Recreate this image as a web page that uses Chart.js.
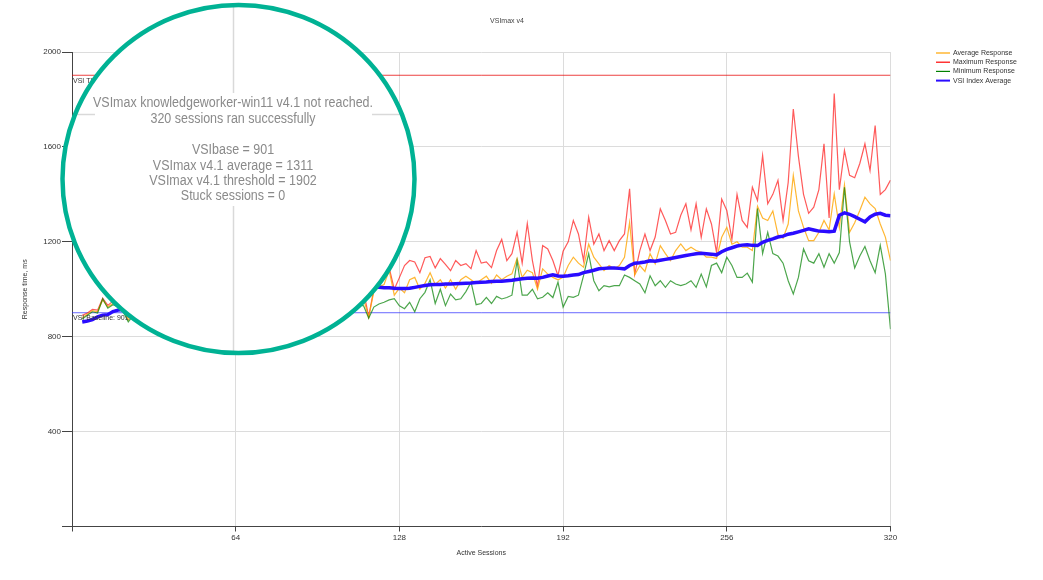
<!DOCTYPE html>
<html>
<head>
<meta charset="utf-8">
<title>VSImax v4</title>
<script src="https://cdn.jsdelivr.net/npm/chart.js@4.4.1/dist/chart.umd.min.js"></script>
<style>
  html, body { margin: 0; padding: 0; background: #fff; }
  #wrap { width: 1043px; height: 580px; position: relative; }
</style>
</head>
<body>
<div id="wrap"><canvas id="chart" width="1043" height="580"></canvas></div>
<script>
// active sessions (x values)
const sessions = [
  4, 6, 8, 10, 12, 14, 16, 18, 20, 22, 24,
  28, 34, 40, 46, 52, 58, 64, 70, 76, 82, 88, 94, 100, 106, 110, 112,
  114, 116, 118, 120, 122, 124, 126, 128, 130, 132,
  134, 136, 138, 140, 142, 144, 146, 148, 150, 152,
  154, 156, 158, 160, 162, 164, 166, 168, 170, 172,
  174, 176, 178, 180, 182, 184, 186, 188, 190, 192,
  194, 196, 198, 200, 202, 204, 206, 208, 210, 212,
  214, 216, 218, 220, 222, 224, 226, 228, 230, 232,
  234, 236, 238, 240, 242, 244, 246, 248, 250, 252,
  254, 256, 258, 260, 262, 264, 266, 268, 270, 272,
  274, 276, 278, 280, 282, 284, 286, 288, 290, 292,
  294, 296, 298, 300, 302, 304, 306, 308, 310, 312,
  314, 316, 318, 320
];

const avgResponse = [
  880, 895, 910, 905, 955, 925, 940, 930, 915, 870, 900,
  935, 945, 950, 960, 965, 975, 980, 985, 995, 1000, 1005, 1010, 1015, 1010, 1000, 985,
  960, 882, 990, 1010, 1020, 1080, 975, 1005, 985, 1040,
  1050, 1000, 1025, 1070, 1020, 1040, 1005, 1040, 1000, 1040,
  1055, 1040, 1025, 1040, 1055, 1025, 1060, 1040, 1055, 1065,
  1130, 1050, 1080, 1070, 1000, 1086, 1064, 1050, 1040, 1050,
  1100, 1135, 1110, 1093, 1190, 1135, 1107, 1079, 1100, 1086,
  1100, 1135, 1282, 1060, 1100, 1075, 1150, 1107, 1184, 1150,
  1121, 1163, 1191, 1163, 1177, 1163, 1156, 1135, 1135, 1130,
  1219, 1261, 1190, 1200, 1177, 1177, 1163, 1350, 1300, 1290,
  1330, 1230, 1215, 1275, 1480, 1330, 1261, 1205, 1205, 1240,
  1290, 1250, 1402, 1260, 1440, 1240, 1280, 1332, 1388, 1360,
  1340, 1275, 1220, 1121
];

const maxResponse = [
  890, 900, 915, 912, 962, 932, 950, 940, 925, 880, 905,
  970, 990, 1000, 1010, 1020, 1030, 1040, 1050, 1055, 1060, 1070, 1075, 1080, 1070, 1050, 1020,
  990, 885, 1000, 1030, 1057, 1091, 1000, 1049, 1100, 1121,
  1115, 1070, 1133, 1138, 1090, 1129, 1105, 1078, 1121, 1100,
  1108, 1087, 1163, 1110, 1115, 1091, 1163, 1210, 1121, 1150,
  1240, 1110, 1277, 1121, 1010, 1184, 1170, 1121, 1057, 1160,
  1200, 1290, 1233, 1121, 1304, 1190, 1233, 1163, 1205, 1163,
  1205, 1233, 1423, 1064, 1163, 1233, 1163, 1220, 1339, 1290,
  1233, 1240, 1312, 1360, 1250, 1360, 1219, 1339, 1275, 1155,
  1380, 1332, 1210, 1400, 1290, 1261, 1430, 1374, 1564, 1360,
  1400, 1459, 1290, 1450, 1760, 1560, 1400, 1320, 1346, 1420,
  1613, 1300, 1825, 1420, 1585, 1480, 1470, 1530, 1613, 1500,
  1690, 1400, 1420, 1460
];

const minResponse = [
  875, 890, 905, 900, 960, 920, 935, 925, 905, 862, 890,
  910, 915, 920, 925, 930, 935, 940, 945, 950, 950, 955, 960, 955, 950, 940, 935,
  930, 878, 925, 938, 945, 955, 960, 930, 918, 945,
  905, 960, 987, 1040, 940, 1000, 931, 980, 955, 960,
  990, 1030, 935, 940, 966, 940, 970, 959, 965, 975,
  1120, 975, 975, 1000, 960, 966, 985, 965, 1030, 925,
  970, 966, 975, 1057, 1150, 1036, 994, 1015, 1010, 1015,
  1015, 1060, 1050, 1036, 1022, 985, 1057, 1015, 1036, 1008,
  1036, 1022, 1015, 1022, 1036, 1008, 1064, 1010, 1100, 1110,
  1070, 1135, 1100, 1050, 1050, 1068, 1030, 1340, 1150, 1240,
  1150, 1140, 1110, 1036, 980, 1050, 1170, 1120, 1110, 1150,
  1093, 1150, 1110, 1155, 1430, 1200, 1090, 1140, 1180, 1120,
  1070, 1185, 1065, 832
];

const vsiIndexAvg = [
  862, 866, 872, 884, 891, 893, 906, 912, 915, 917, 918,
  922, 928, 935, 942, 948, 955, 962, 968, 975, 982, 988, 994, 998, 1002, 1004, 1005,
  1006, 1007, 1008, 1008, 1006, 1006, 1004, 1003, 1003, 1004,
  1008, 1012, 1016, 1019, 1020, 1020, 1022, 1022, 1023, 1024,
  1025, 1026, 1028, 1030, 1031, 1033, 1034, 1034, 1036, 1038,
  1041, 1044, 1046, 1047, 1046, 1050, 1056, 1061, 1056, 1055,
  1057, 1060, 1062, 1070, 1075, 1080, 1086, 1088, 1090, 1090,
  1088, 1086, 1100, 1110, 1112, 1115, 1120, 1118, 1122, 1126,
  1130, 1134, 1138, 1142, 1146, 1150, 1152, 1150, 1148, 1145,
  1158, 1168, 1175, 1182, 1186, 1188, 1185, 1184, 1198, 1206,
  1212, 1220, 1224, 1232, 1236, 1242, 1248, 1255, 1250, 1245,
  1244, 1242, 1245, 1312, 1322, 1316, 1306, 1295, 1284, 1305,
  1316, 1320, 1312, 1310
];

const xTicks = [0, 64, 128, 192, 256, 320];
const yTicks = [0, 400, 800, 1200, 1600, 2000];

const VSI_BASE = 901;
const VSI_MAX_AVG = 1311;
const VSI_THRESHOLD = 1902;
const SESSIONS_OK = 320;

if ([avgResponse, maxResponse, minResponse, vsiIndexAvg].some(a => a.length !== sessions.length)) {
  console.error('series length mismatch');
}

const toPoints = arr => sessions.map((s, i) => ({ x: s, y: arr[i] }));
const flatLine = v => [{ x: xTicks[0], y: v }, { x: xTicks[xTicks.length - 1], y: v }];

const FONT = '"Liberation Sans", Arial, sans-serif';

const datasets = [
  { label: 'Average Response', data: toPoints(avgResponse), borderColor: 'rgba(255,165,0,0.8)', legendColor: '#ffa500', borderWidth: 1.2, order: 2 },
  { label: 'Maximum Response', data: toPoints(maxResponse), borderColor: 'rgba(255,20,20,0.7)', legendColor: '#ff0000', borderWidth: 1.2, order: 3 },
  { label: 'Minimum Response', data: toPoints(minResponse), borderColor: 'rgba(0,128,0,0.7)', legendColor: '#008000', borderWidth: 1.2, order: 1 },
  { label: 'VSI Index Average', data: toPoints(vsiIndexAvg), borderColor: '#2a0cff', legendColor: '#2a0cff', borderWidth: 3.5, order: 0 },
  { label: 'VSI Threshold', data: flatLine(VSI_THRESHOLD), borderColor: 'rgba(230,0,0,0.75)', borderWidth: 1, order: 4, noLegend: true },
  { label: 'VSI Baseline', data: flatLine(VSI_BASE), borderColor: 'rgba(40,40,255,0.7)', borderWidth: 1, order: 4, noLegend: true }
];
datasets.forEach(d => { d.pointRadius = 0; d.tension = 0; d.fill = false; });

const overlay = {
  id: 'overlay',
  afterDatasetsDraw(chart) {
    const { ctx, scales: { x, y } } = chart;
    ctx.save();
    ctx.font = '7px ' + FONT;
    ctx.fillStyle = '#333';
    ctx.textBaseline = 'top';
    ctx.fillText('VSI Threshold: ' + VSI_THRESHOLD, x.left + 1, y.getPixelForValue(VSI_THRESHOLD) + 2);
    ctx.fillText('VSI Baseline: ' + VSI_BASE, x.left + 1, y.getPixelForValue(VSI_BASE) + 2);
    ctx.restore();
  },
  afterDraw(chart) {
    const ctx = chart.ctx;
    ctx.save();

    // title
    ctx.font = '7px ' + FONT;
    ctx.fillStyle = '#444';
    ctx.textAlign = 'center';
    ctx.textBaseline = 'middle';
    ctx.fillText('VSImax v4', 507, 21);

    // legend
    ctx.textAlign = 'left';
    chart.data.datasets.filter(d => !d.noLegend).forEach((d, i) => {
      const ly = 53 + i * 9.2;
      ctx.strokeStyle = d.legendColor;
      ctx.lineWidth = d.borderWidth > 2 ? 2 : 1.2;
      ctx.beginPath();
      ctx.moveTo(936, ly);
      ctx.lineTo(950, ly);
      ctx.stroke();
      ctx.fillStyle = '#333';
      ctx.fillText(d.label, 953, ly);
    });

    // magnifier callout
    const cx = 238.5, cy = 179, rx = 176, ry = 174;
    ctx.save();
    ctx.beginPath();
    ctx.ellipse(cx, cy, rx, ry, 0, 0, Math.PI * 2);
    ctx.fillStyle = '#fff';
    ctx.fill();
    ctx.clip();
    ctx.strokeStyle = '#d9d9d9';
    ctx.lineWidth = 1.5;
    ctx.beginPath();
    ctx.moveTo(233.5, 0); ctx.lineTo(233.5, 360);
    ctx.moveTo(55, 114.5); ctx.lineTo(420, 114.5);
    ctx.stroke();
    ctx.fillStyle = '#fff';
    ctx.fillRect(95, 93, 277, 113);

    const lines = [
      ['VSImax knowledgeworker-win11 v4.1 not reached.', 103],
      [SESSIONS_OK + ' sessions ran successfully', 119],
      ['VSIbase = ' + VSI_BASE, 150],
      ['VSImax v4.1 average = ' + VSI_MAX_AVG, 166],
      ['VSImax v4.1 threshold = ' + VSI_THRESHOLD, 181],
      ['Stuck sessions = 0', 196]
    ];
    ctx.font = '14px ' + FONT;
    const sx = 280 / ctx.measureText(lines[0][0]).width;
    ctx.fillStyle = '#8a8a8a';
    ctx.textAlign = 'center';
    ctx.textBaseline = 'middle';
    lines.forEach(([t, ty]) => {
      ctx.save();
      ctx.translate(233, ty);
      ctx.scale(sx, 1);
      ctx.fillText(t, 0, 0);
      ctx.restore();
    });
    ctx.restore();

    ctx.beginPath();
    ctx.ellipse(cx, cy, rx, ry, 0, 0, Math.PI * 2);
    ctx.lineWidth = 4.5;
    ctx.strokeStyle = '#00b294';
    ctx.stroke();

    ctx.restore();
  }
};

new Chart(document.getElementById('chart'), {
  type: 'line',
  data: { datasets },
  options: {
    responsive: false,
    animation: false,
    devicePixelRatio: 1,
    events: [],
    layout: { padding: { left: 0, right: 152.5, top: 52, bottom: 0 } },
    plugins: {
      legend: { display: false },
      title: { display: false },
      tooltip: { enabled: false }
    },
    scales: {
      x: {
        type: 'linear',
        min: xTicks[0],
        max: xTicks[xTicks.length - 1],
        afterBuildTicks: s => { s.ticks = xTicks.map(v => ({ value: v })); },
        afterFit: s => { s.height = 53.5; },
        ticks: {
          callback: v => (v === 0 ? '' : v),
          font: { size: 8, family: FONT },
          color: '#333',
          padding: 1,
          maxRotation: 0,
          autoSkip: false
        },
        grid: { color: '#dcdcdc', tickColor: '#444', tickLength: 5 },
        border: { color: '#444', width: 1 },
        title: {
          display: true,
          text: 'Active Sessions',
          font: { size: 7, family: FONT },
          color: '#333',
          padding: { top: 0, bottom: 23 }
        }
      },
      y: {
        min: yTicks[0],
        max: yTicks[yTicks.length - 1],
        afterBuildTicks: s => { s.ticks = yTicks.map(v => ({ value: v })); },
        afterFit: s => { s.width = 72; },
        ticks: {
          callback: v => (v === 0 ? '' : v),
          font: { size: 8, family: FONT },
          color: '#333',
          padding: 1
        },
        grid: { color: '#dcdcdc', tickColor: '#444', tickLength: 10 },
        border: { color: '#444', width: 1 },
        title: {
          display: true,
          text: 'Response time, ms',
          font: { size: 7, family: FONT },
          color: '#333',
          padding: { top: 21, bottom: 0 }
        }
      }
    }
  },
  plugins: [overlay]
});
</script>
</body>
</html>
